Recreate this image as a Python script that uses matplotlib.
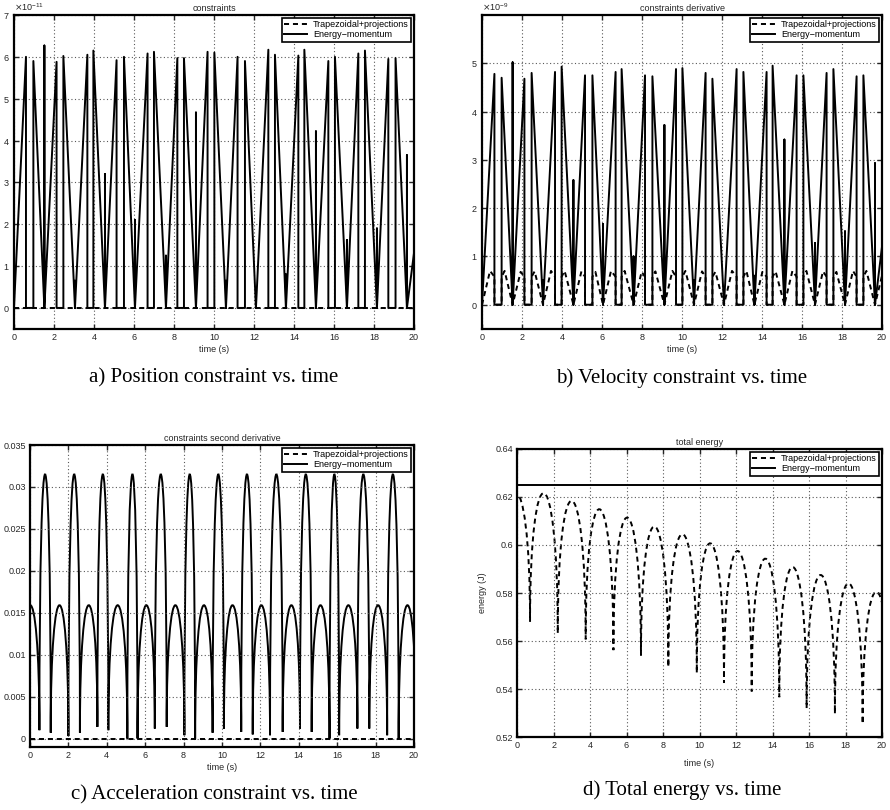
import numpy as np
import matplotlib
matplotlib.use("Agg")
import matplotlib.pyplot as plt
from matplotlib.path import Path
from matplotlib.patches import PathPatch
from matplotlib.lines import Line2D
from matplotlib.ticker import FuncFormatter

plt.rcParams['font.family'] = ['Liberation Sans', 'DejaVu Sans']

# ---------------- data ----------------
x_ticks = [0, 2, 4, 6, 8, 10, 12, 14, 16, 18, 20]
series_names = ["Trapezoidal+projections", "Energy\u2212momentum"]

# a) position constraint, units of 1e-11
a_scale = 1e-11
a_min_t = [0.0, 1.52, 3.05, 4.55, 6.05, 7.6, 9.1, 10.6, 12.1, 13.6, 15.1, 16.65, 18.15, 19.65]
a_spike = [0.0, 6.27, 0.65, 3.2, 2.1, 1.25, 4.67, 0.65, 0.3, 0.8, 4.22, 1.62, 1.9, 3.65]
a_p1_t = [0.6, 2.13, 3.67, 5.13, 6.68, 8.17, 9.68, 11.18, 12.72, 14.22, 15.72, 17.22, 18.72]
a_p1 = [6.0, 5.88, 6.05, 5.92, 6.08, 5.97, 6.12, 6.0, 6.17, 6.03, 5.9, 6.08, 5.95]
a_p2_t = [0.97, 2.47, 3.97, 5.5, 7.0, 8.5, 10.02, 11.55, 13.05, 14.52, 16.05, 17.55, 19.08]
a_p2 = [5.9, 6.02, 6.15, 6.0, 6.12, 5.97, 6.1, 5.9, 6.05, 6.17, 6.0, 6.15, 5.97]
a_end = [20.0, 1.3]
a_trap_t = [0.0, 20.0]
a_trap = [0.0, 0.0]
a_yticks = [0, 1, 2, 3, 4, 5, 6, 7]

# b) velocity constraint, units of 1e-9
b_scale = 1e-9
b_min_t = [0.0, 1.53, 3.05, 4.57, 6.05, 7.58, 9.12, 10.6, 12.1, 13.62, 15.12, 16.65, 18.15, 19.65]
b_spike = [0.0, 5.02, 0.5, 2.58, 1.67, 1.0, 3.72, 0.5, 0.35, 0.6, 3.42, 1.28, 1.52, 2.93]
b_p1_t = [0.62, 2.12, 3.65, 5.15, 6.68, 8.15, 9.7, 11.18, 12.73, 14.23, 15.73, 17.23, 18.73]
b_p1 = [4.78, 4.68, 4.82, 4.75, 4.82, 4.75, 4.88, 4.8, 4.88, 4.82, 4.75, 4.8, 4.73]
b_p2_t = [0.98, 2.48, 3.98, 5.52, 6.98, 8.52, 10.02, 11.52, 13.07, 14.53, 16.07, 17.57, 19.07]
b_p2 = [4.7, 4.8, 4.93, 4.75, 4.88, 4.73, 4.9, 4.68, 4.82, 4.95, 4.75, 4.88, 4.75]
b_end = [20.0, 1.2]
# dashed (trapezoidal) humps
b_h1_t = [0.40, 1.93, 3.45, 4.97, 6.45, 7.98, 9.52, 11.0, 12.5, 14.02, 15.52, 17.05, 18.55]
b_h1 = [0.70, 0.68, 0.70, 0.69, 0.70, 0.68, 0.70, 0.69, 0.70, 0.68, 0.70, 0.69, 0.70]
b_h2_t = [1.13, 2.63, 4.13, 5.67, 7.13, 8.67, 10.17, 11.67, 13.22, 14.68, 16.22, 17.72, 19.22]
b_h2 = [0.70, 0.69, 0.70, 0.68, 0.70, 0.69, 0.70, 0.68, 0.70, 0.69, 0.70, 0.68, 0.70]
b_notch_top = 0.58
b_dash_end = [20.0, 0.6]
b_yticks = [0, 1, 2, 3, 4, 5]

# c) acceleration constraint: arcs between dips
c_dip_t = [-0.46, 0.49, 1.08, 2.0, 2.6, 3.51, 4.08, 5.07, 5.6, 6.5, 7.12, 8.04, 8.6, 9.51,
           10.1, 11.0, 11.6, 12.5, 13.16, 14.06, 14.67, 15.6, 16.1, 17.05, 17.67, 18.6, 19.2, 20.1]
c_dip = [0.001, 0.001, 0.0007, 0.0003, 0.0007, 0.0014, 0.001, 0.0, 0.0, 0.0012, 0.0014, 0.0004,
         0.0, 0.0007, 0.0012, 0.0008, 0.0005, 0.0004, 0.0008, 0.0012, 0.0008, 0.0, 0.0004,
         0.0012, 0.0012, 0.0004, 0.0, 0.001]
c_arc_top = [0.0159, 0.0315, 0.0159, 0.0315, 0.0159, 0.0315, 0.0159, 0.0315, 0.0159, 0.0315,
             0.0159, 0.0315, 0.0159, 0.0315, 0.0159, 0.0315, 0.0159, 0.0315, 0.0159, 0.0315,
             0.0159, 0.0315, 0.0159, 0.0315, 0.0159, 0.0315, 0.0159]
c_trap_t = [0.0, 20.0]
c_trap = [0.0, 0.0]
c_yticks = [0, 0.005, 0.01, 0.015, 0.02, 0.025, 0.03, 0.035]

# d) total energy
d_trough_t = [-0.81, 0.71, 2.23, 3.76, 5.28, 6.79, 8.29, 9.85, 11.34, 12.86, 14.37, 15.87,
              17.42, 18.94, 20.46]
d_trough = [0.569, 0.568, 0.5632, 0.5607, 0.5562, 0.554, 0.5492, 0.5467, 0.5425, 0.539,
            0.5366, 0.532, 0.5297, 0.5255, 0.523]
d_top = [0.6215, 0.6216, 0.6184, 0.6149, 0.6114, 0.6077, 0.6045, 0.6007, 0.5975, 0.5943,
         0.5908, 0.5875, 0.584, 0.5805]
d_em_t = [0.0, 20.0]
d_em = [0.625, 0.625]
d_yticks = [0.52, 0.54, 0.56, 0.58, 0.6, 0.62, 0.64]

captions = ["a) Position constraint vs. time", "b) Velocity constraint vs. time",
            "c) Acceleration constraint vs. time", "d) Total energy vs. time"]
titles = ["constraints", "constraints derivative", "constraints second derivative", "total energy"]

# ---------------- helpers ----------------
LW = 1.4
DASH = (0, (2.6, 2.0))


def zigzag(min_t, spike, p1_t, p1, p2_t, p2, end):
    ts, ys = [], []
    for k in range(len(p1_t)):
        m = min_t[k]
        ts.append(m); ys.append(0.0)
        if spike[k] > 0:
            ts += [m, m]; ys += [spike[k], 0.0]
        ts += [p1_t[k], p1_t[k], p2_t[k], p2_t[k]]
        ys += [p1[k], 0.0, 0.0, p2[k]]
    m = min_t[-1]
    ts.append(m); ys.append(0.0)
    if spike[-1] > 0:
        ts += [m, m]; ys += [spike[-1], 0.0]
    ts.append(end[0]); ys.append(end[1])
    return np.array(ts), np.array(ys)


def humps(min_t, h1_t, h1, p1_t, p2_t, h2_t, h2, notch, end):
    ts, ys = [], []
    for k in range(len(h1_t)):
        ts += [min_t[k], h1_t[k], p1_t[k], p1_t[k], p2_t[k], p2_t[k], h2_t[k]]
        ys += [0.0, h1[k], notch, 0.0, 0.0, notch, h2[k]]
    ts += [min_t[len(h1_t)], end[0]]
    ys += [0.0, end[1]]
    return np.array(ts), np.array(ys)


def arc_path(xs, ys, tops):
    verts, codes = [(xs[0], ys[0])], [Path.MOVETO]
    for i in range(len(tops)):
        yc = (tops[i] - 0.125 * (ys[i] + ys[i + 1])) / 0.75
        verts += [(xs[i], yc), (xs[i + 1], yc), (xs[i + 1], ys[i + 1])]
        codes += [Path.CURVE4] * 3
    return Path(verts, codes)


def style(ax, title, yticks, ylim, fmt=True):
    ax.set_xlim(0, 20)
    ax.set_ylim(*ylim)
    ax.set_xticks(x_ticks)
    ax.set_yticks(yticks)
    ax.xaxis.set_major_formatter(FuncFormatter(lambda v, p: "%g" % v))
    if fmt:
        ax.yaxis.set_major_formatter(FuncFormatter(lambda v, p: "%g" % v))
    ax.grid(True, linestyle=(0, (1, 2.2)), color="0.35", linewidth=0.8)
    ax.tick_params(direction="in", length=3.5, width=1.0, top=True, right=True,
                   labelsize=6.5, pad=3, colors="0.15")
    for s in ax.spines.values():
        s.set_linewidth(1.6)
    ax.set_title(title, fontsize=6.5, pad=3, color="0.15")
    ax.set_xlabel("time (s)", fontsize=6.5, labelpad=2, color="0.15")
    handles = [Line2D([], [], color="k", lw=LW, linestyle=DASH),
               Line2D([], [], color="k", lw=LW)]
    leg = ax.legend(handles, series_names, loc="upper right", fontsize=6.5,
                    fancybox=False, framealpha=1, edgecolor="k", borderaxespad=0.35,
                    handlelength=2.6, borderpad=0.25, labelspacing=0.1, handletextpad=0.6)
    leg.get_frame().set_linewidth(1.2)


fig = plt.figure(figsize=(8.9, 8.1), dpi=100)

# a)
ax = fig.add_axes([0.0157, 0.594, 0.4494, 0.3875])
t, y = zigzag(a_min_t, a_spike, a_p1_t, a_p1, a_p2_t, a_p2, a_end)
ax.plot(a_trap_t, np.array(a_trap) * a_scale, color="k", lw=LW, linestyle=DASH)
ax.plot(t, y * a_scale, color="k", lw=LW)
style(ax, titles[0], np.array(a_yticks) * a_scale, (-0.5 * a_scale, 7 * a_scale), fmt=False)
ax.ticklabel_format(axis="y", style="sci", scilimits=(0, 0), useMathText=True)
ax.yaxis.get_offset_text().set_fontsize(6.5)

# b)
ax = fig.add_axes([0.5416, 0.594, 0.4494, 0.3875])
t, y = zigzag(b_min_t, b_spike, b_p1_t, b_p1, b_p2_t, b_p2, b_end)
td, yd = humps(b_min_t, b_h1_t, b_h1, b_p1_t, b_p2_t, b_h2_t, b_h2, b_notch_top, b_dash_end)
ax.plot(td, yd * b_scale, color="k", lw=LW, linestyle=DASH)
ax.plot(t, y * b_scale, color="k", lw=LW)
style(ax, titles[1], np.array(b_yticks) * b_scale, (-0.5 * b_scale, 6 * b_scale), fmt=False)
ax.ticklabel_format(axis="y", style="sci", scilimits=(0, 0), useMathText=True)
ax.yaxis.get_offset_text().set_fontsize(6.5)

# c)
ax = fig.add_axes([0.0337, 0.0778, 0.4315, 0.3728])
ax.plot(c_trap_t, c_trap, color="k", lw=LW, linestyle=DASH)
ax.add_patch(PathPatch(arc_path(c_dip_t, c_dip, c_arc_top), fill=False, edgecolor="k", lw=LW))
style(ax, titles[2], c_yticks, (-0.001, 0.035))

# d)
ax = fig.add_axes([0.581, 0.0901, 0.410, 0.3556])
ax.add_patch(PathPatch(arc_path(d_trough_t, d_trough, d_top), fill=False, edgecolor="k",
                       lw=LW, linestyle=DASH))
ax.plot(d_em_t, d_em, color="k", lw=LW)
style(ax, titles[3], d_yticks, (0.52, 0.64))
ax.set_ylabel("energy (J)", fontsize=6.5, labelpad=6, color="0.15")
ax.set_xlabel("time (s)", fontsize=6.5, labelpad=6, color="0.15")

# captions
for (x, yy), s in zip([(0.2404, 0.5333), (0.766, 0.5333), (0.2404, 0.0185), (0.766, 0.0247)], captions):
    fig.text(x, yy, s, ha="center", va="center", fontsize=15,
             family=["Liberation Serif", "DejaVu Serif"])

fig.savefig("out.png", dpi=100)
